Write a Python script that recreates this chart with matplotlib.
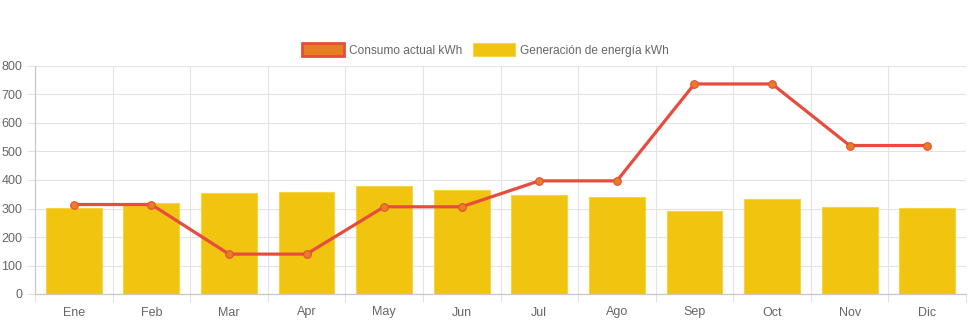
import numpy as np
import matplotlib
matplotlib.use("Agg")
import matplotlib.pyplot as plt
from matplotlib.patches import Patch

plt.rcParams['font.family'] = ['Liberation Sans', 'DejaVu Sans']

# data
meses = ['Ene', 'Feb', 'Mar', 'Apr', 'May', 'Jun', 'Jul', 'Ago', 'Sep', 'Oct', 'Nov', 'Dic']
consumo = [314, 314, 140, 140, 306, 306, 397, 397, 737, 737, 521, 521]
generacion = [301, 319, 356, 357, 378, 365, 347, 340, 292, 334, 306, 301]
y_ticks = [0, 100, 200, 300, 400, 500, 600, 700, 800]

fig = plt.figure(figsize=(9.71, 3.23), dpi=100)
ax = fig.add_axes([35 / 971, 29 / 323, 931 / 971, 228 / 323])

x = np.arange(len(meses))

# bars (category 0.8 * bar 0.9, like Chart.js)
ax.bar(x, generacion, width=0.72, color='#f1c40f', edgecolor='#f5d548',
       linewidth=0.8, zorder=2)

# consumption line
ax.plot(x, consumo, color='#e74c3c', linewidth=2.3, zorder=3,
        marker='o', markersize=5.5, markerfacecolor='#e67e22',
        markeredgecolor='#e74c3c', markeredgewidth=0.8)

ax.set_xlim(-0.5, len(meses) - 0.5)
ax.set_ylim(0, 800)
ax.set_yticks(y_ticks)
ax.set_xticks(x)
ax.set_xticklabels(meses)
ax.set_xticks(np.arange(-0.5, len(meses)), minor=True)

grid_col = '#e3e3e3'
ax.grid(False)
ax.yaxis.grid(True, color=grid_col, linewidth=0.8, zorder=0)
ax.xaxis.grid(True, which='minor', color=grid_col, linewidth=0.8, zorder=0)
ax.set_axisbelow(True)

for s in ['top', 'right']:
    ax.spines[s].set_visible(False)
for s in ['left', 'bottom']:
    ax.spines[s].set_color('#c8c8c8')
    ax.spines[s].set_linewidth(0.9)

ax.tick_params(axis='x', which='major', length=0, pad=9, labelsize=9, labelcolor='#666666')
ax.tick_params(axis='x', which='minor', length=6, color=grid_col, width=0.8)
ax.tick_params(axis='y', length=6, color=grid_col, width=0.8, pad=3,
               labelsize=9, labelcolor='#666666')

handles = [
    Patch(facecolor='#e67e22', edgecolor='#e74c3c', linewidth=2),
    Patch(facecolor='#f1c40f', edgecolor='#f5d548', linewidth=0.8),
]
leg = fig.legend(handles, ['Consumo actual kWh', 'Generación de energía kWh'],
                 loc='center', bbox_to_anchor=(0.5, 1 - 50 / 323), ncol=2,
                 frameon=False, fontsize=8.6, handlelength=3.5, handleheight=1.2,
                 handletextpad=0.45, columnspacing=0.85, borderpad=0)
for t in leg.get_texts():
    t.set_color('#666666')

fig.savefig('out.png', dpi=100)
